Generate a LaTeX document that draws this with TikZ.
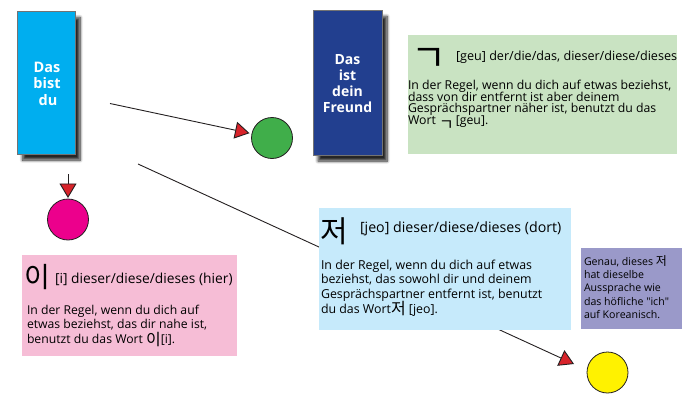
\documentclass[tikz,border=0pt]{standalone}
\usepackage{fontspec}
\setmainfont{Open Sans}
\newfontfamily\kor{Noto Sans CJK KR}
\usetikzlibrary{shadows.blur,arrows.meta}
\definecolor{cyanbox}{HTML}{00AEEF}
\definecolor{navybox}{HTML}{223F8F}
\definecolor{greenbox}{HTML}{C9E3C2}
\definecolor{pinkbox}{HTML}{F6BDD6}
\definecolor{skybox}{HTML}{C6EAFB}
\definecolor{lilacbox}{HTML}{9A99C9}
\definecolor{dotline}{HTML}{231F20}
\definecolor{arrowred}{HTML}{D8232A}
\definecolor{dotgreen}{HTML}{40AE4A}
\definecolor{dotmagenta}{HTML}{EC008C}
\definecolor{dotyellow}{HTML}{FFF200}
\newcommand\kchar[3][0pt]{\smash{\raisebox{#1}{\kor\fontsize{#2}{#2}\selectfont #3}}}
\newlength\natw
\newcommand\fitfont[3]{%
  \pgfinterruptpicture
    \settowidth{\natw}{\fontsize{10}{10}\selectfont #3}%
    \global\natw=\natw
  \endpgfinterruptpicture
  \pgfmathsetmacro#1{10*#2/\natw}}
\begin{document}
\begin{tikzpicture}[x=1pt,y=-1pt,
  every node/.style={inner sep=0pt,outer sep=0pt},
  panel/.style={draw=black!55,line width=0.5pt,
    blur shadow={shadow xshift=5pt,shadow yshift=-6pt,shadow blur steps=8,
      shadow blur radius=3pt,shadow opacity=85}},
  paneltext/.style={anchor=base,text=white,font=\bfseries\fontsize{#1}{#1}\selectfont},
  infobox/.style={draw=none},
  dot/.style={circle,draw=dotline,line width=0.8pt,minimum size=41pt},
  link/.style={draw=dotline,line width=0.9pt,
    -{Triangle[width=17pt,length=14.5pt,fill=arrowred]}},
  bigkor/.style={anchor=base west,font=\kor\fontsize{#1}{#1}\selectfont},
  titletext/.style={anchor=base west,font=\fontsize{#1}{#1}\selectfont},
  bodyline/.style={anchor=base west,font=\fontsize{#1}{#1}\selectfont}
]
% font sizes fitted to the measured line widths of each box
\fitfont\gsz{723}{In der Regel, wenn du dich auf etwas beziehst,dass von dir entfernt ist aber deinemGesprächspartner näher ist, benutzt du das}
\fitfont\jsz{643}{In der Regel, wenn du dich auf etwasbeziehst, das sowohl dir und deinemGesprächspartner entfernt ist, benutzt}
\fitfont\isz{352}{In der Regel, wenn du dich aufetwas beziehst, das dir nahe ist,}
\fitfont\nsz{297}{hat dieselbeAussprache wiedas höfliche "ich"auf Koreanisch.}
\useasboundingbox (0,0) rectangle (700,401);
% long connector (behind the light blue box)
\coordinate (s3) at (138,164);
\coordinate (e3) at (574,364);
\draw[link] (s3) -- (e3);

% panels
\node[panel,fill=cyanbox,minimum width=57.5pt,minimum height=142.5pt] (you) at (46.25,82.75) {};
\node[paneltext=14.5] (you1) at (47,72.5) {Das};
\node[paneltext=14.5] (you2) at (47,88.8) {bist};
\node[paneltext=14.5] (you3) at (48,105.1) {du};
\node[panel,fill=navybox,minimum width=69pt,minimum height=144.5pt] (friend) at (347.5,82.75) {};
\node[paneltext=14] (fr1) at (347.5,65) {Das};
\node[paneltext=14] (fr2) at (347.5,80.8) {ist};
\node[paneltext=14] (fr3) at (347.5,96.6) {dein};
\node[paneltext=14] (fr4) at (347.5,112.4) {Freund};

% circles
\node[dot,fill=dotgreen] (cg) at (272,138) {};
\node[dot,fill=dotmagenta] (cm) at (68,219.5) {};
\node[dot,fill=dotyellow] (cy) at (607.5,372.5) {};

% arrows
\coordinate (s1) at (110,103.5);
\coordinate (s2) at (68,174);
\draw[link,shorten >=2.5pt] (s1) -- (cg);
\draw[link,shorten >=1pt] (s2) -- (cm);

% green info box
\node[infobox,fill=greenbox,minimum width=269pt,minimum height=119pt] (geubox) at (542.5,94.5) {};
\node[bigkor=38] (geuchar) at (411,72) {ㄱ};
\node[titletext=12.6] (geutitle) at (456,61) {[geu] der/die/das, dieser/diese/dieses};
\node[bodyline=\gsz] (geu1) at (408,89.5) {In der Regel, wenn du dich auf etwas beziehst,};
\node[bodyline=\gsz] (geu2) at (408,101.2) {dass von dir entfernt ist aber deinem};
\node[bodyline=\gsz] (geu3) at (408,112.9) {Gesprächspartner näher ist, benutzt du das};
\node[bodyline=\gsz] (geu4) at (408,124.6) {Wort \kchar[-5.5pt]{16}{ㄱ}\,[geu].};

% pink info box
\node[infobox,fill=pinkbox,minimum width=215pt,minimum height=101pt] (ibox) at (129.5,305.5) {};
\node[bigkor=28] (ichar) at (24.5,287) {이};
\node[titletext=13.8] (ititle) at (55,283.2) {[i] dieser/diese/dieses (hier)};
\node[bodyline=\isz] (i1) at (27,314) {In der Regel, wenn du dich auf};
\node[bodyline=\isz] (i2) at (27,328.8) {etwas beziehst, das dir nahe ist,};
\node[bodyline=\isz] (i3) at (27,343.6) {benutzt du das Wort \kchar[-2pt]{16}{이}[i].};

% light blue info box
\node[infobox,fill=skybox,minimum width=252pt,minimum height=122pt] (jeobox) at (445,269) {};
\node[bigkor=30] (jeochar) at (320,242) {저};
\node[titletext=14.2] (jeotitle) at (360,232.2) {[jeo] dieser/diese/dieses (dort)};
\node[bodyline=\jsz] (j1) at (321,269) {In der Regel, wenn du dich auf etwas};
\node[bodyline=\jsz] (j2) at (321,283.7) {beziehst, das sowohl dir und deinem};
\node[bodyline=\jsz] (j3) at (321,298.4) {Gesprächspartner entfernt ist, benutzt};
\node[bodyline=\jsz] (j4) at (321,313.1) {du das Wort\kchar[-1.5pt]{16}{저} [jeo].};

% purple note
\node[infobox,fill=lilacbox,minimum width=101pt,minimum height=81pt] (notebox) at (631.5,288.5) {};
\node[bodyline=\nsz] (n1) at (584,265) {Genau, dieses \kchar{12}{저}};
\node[bodyline=\nsz] (n2) at (584,278.4) {hat dieselbe};
\node[bodyline=\nsz] (n3) at (584,291.8) {Aussprache wie};
\node[bodyline=\nsz] (n4) at (584,305.2) {das höfliche \textquotedbl ich\textquotedbl};
\node[bodyline=\nsz] (n5) at (584,318.6) {auf Koreanisch.};
\end{tikzpicture}
\end{document}
